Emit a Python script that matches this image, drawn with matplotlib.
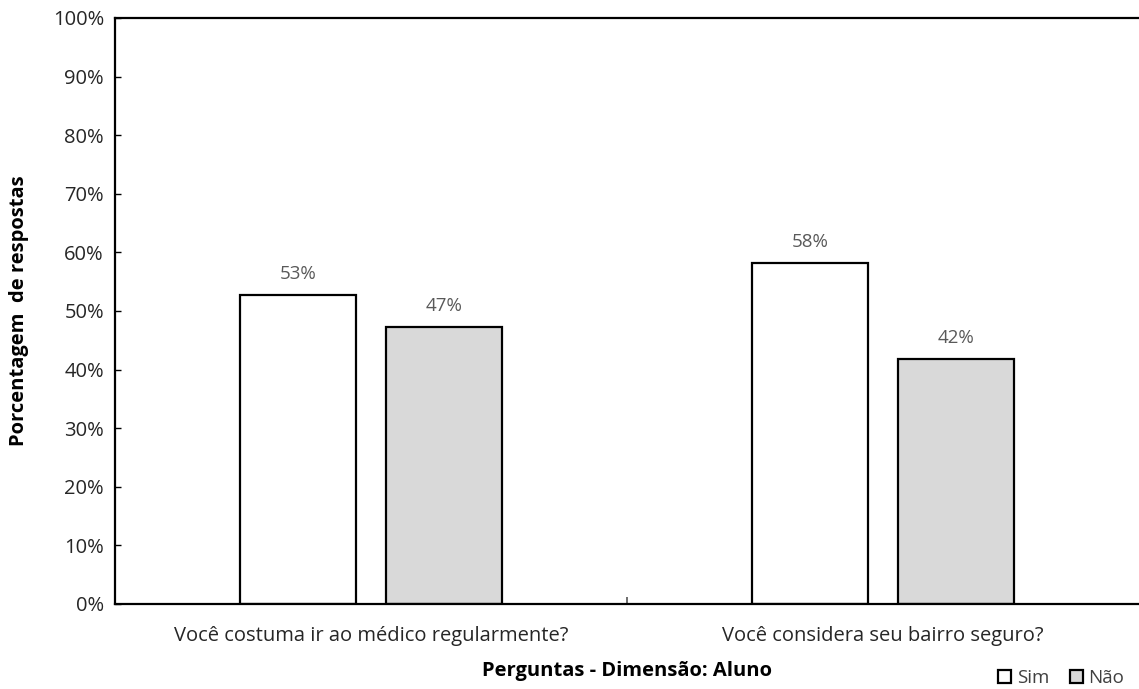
import numpy as np
import matplotlib.pyplot as plt
from matplotlib.patches import Patch
from matplotlib.ticker import PercentFormatter

plt.rcParams['font.family'] = ['Open Sans', 'DejaVu Sans']

perguntas = ['Você costuma ir ao médico regularmente?', 'Você considera seu bairro seguro?']
sim = [0.527, 0.582]
nao = [0.473, 0.418]

fig = plt.figure(figsize=(11.39, 6.89), dpi=100)
ax = fig.add_axes([0.101, 0.1234, 0.899, 0.8505])

x = np.arange(len(perguntas))
w = 0.226
b1 = ax.bar(x - 0.143, sim, w, color='white', edgecolor='black', linewidth=1.6, label='Sim')
b2 = ax.bar(x + 0.143, nao, w, color='#d9d9d9', edgecolor='black', linewidth=1.6, label='Não')

for bars in (b1, b2):
    for r in bars:
        h = r.get_height()
        ax.text(r.get_x() + r.get_width() / 2, h + 0.02, '{:.0%}'.format(h),
                ha='center', va='bottom', fontsize=13.5, color='#595959')

ax.set_xlim(-0.5, 1.5)
ax.set_ylim(0, 1)
ax.set_yticks(np.arange(0, 1.01, 0.1))
ax.yaxis.set_major_formatter(PercentFormatter(1.0, decimals=0))
ax.tick_params(axis='y', direction='in', length=4, width=1, labelsize=14.5, pad=8,
               labelcolor='#262626')

# categorias sem tick, so o separador no meio
ax.set_xticks(x)
ax.set_xticklabels(perguntas, fontsize=14.5, color='#262626')
ax.tick_params(axis='x', length=0, pad=16)
ax.set_xticks([0.5], minor=True)
ax.tick_params(axis='x', which='minor', direction='in', length=5, width=1.2, color='#555555')

for s in ('left', 'top', 'bottom'):
    ax.spines[s].set_linewidth(1.6)
ax.spines['right'].set_visible(False)

ax.set_ylabel('Porcentagem  de respostas', fontsize=14.5, fontweight='bold', labelpad=17)
ax.set_xlabel('Perguntas - Dimensão: Aluno', fontsize=14.5, fontweight='bold', labelpad=11)

handles = [Patch(facecolor='white', edgecolor='black', linewidth=1.6, label='Sim'),
           Patch(facecolor='#d9d9d9', edgecolor='black', linewidth=1.6, label='Não')]
fig.legend(handles=handles, loc='lower right', bbox_to_anchor=(1.002, -0.022), ncol=2,
           frameon=False, fontsize=13.5, handlelength=0.7, handleheight=0.7,
           handletextpad=0.3, columnspacing=1.1, labelcolor='#404040')

fig.savefig('out.png', dpi=100)
